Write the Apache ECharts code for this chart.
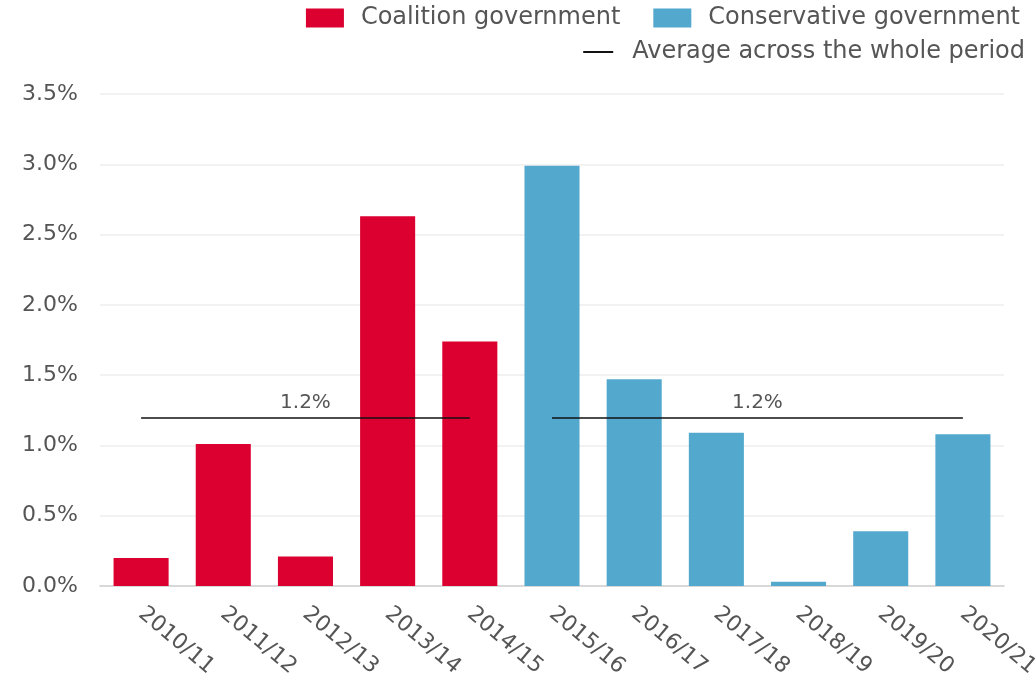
<!DOCTYPE html>
<html>
<head>
<meta charset="utf-8">
<style>
  html, body { margin: 0; padding: 0; background: #fff; }
  #chart { width: 1035px; height: 678px; }
</style>
<script src="https://cdn.jsdelivr.net/npm/echarts@6/dist/echarts.min.js"></script>
</head>
<body>
<div id="chart"></div>
<script>
// Annual growth by financial year, split by governing party
const categories = ['2010/11', '2011/12', '2012/13', '2013/14', '2014/15', '2015/16',
                    '2016/17', '2017/18', '2018/19', '2019/20', '2020/21'];
const coalitionYears = ['2010/11', '2011/12', '2012/13', '2013/14', '2014/15'];
const coalitionValues = [0.20, 1.01, 0.21, 2.63, 1.74];
const conservativeYears = ['2015/16', '2016/17', '2017/18', '2018/19', '2019/20', '2020/21'];
const conservativeValues = [2.99, 1.47, 1.09, 0.03, 0.39, 1.08];
const coalitionAverage = 1.2;
const conservativeAverage = 1.2;
const yTicks = { min: 0, max: 3.5, interval: 0.5 };

const FONT = 'DejaVu Sans';
const RED = '#DC0030';
const BLUE = '#53A8CE';

// place each party's values in its own slot along the shared category axis
function spread(years, values) {
  return categories.map(c => {
    const i = years.indexOf(c);
    return i >= 0 ? values[i] : null;
  });
}

// one horizontal segment spanning a party's years, labelled with its average
function averageSegment(years, value) {
  const text = value.toFixed(1) + '%';
  return [
    { name: text, coord: [years[0], value] },
    { coord: [years[years.length - 1], value] }
  ];
}

const chart = echarts.init(document.getElementById('chart'));
chart.setOption({
  animation: false,
  textStyle: { fontFamily: FONT },
  legend: [
    {
      data: ['Coalition government', 'Conservative government'],
      top: 1, right: 10,
      itemWidth: 38, itemHeight: 19, itemGap: 33,
      icon: 'rect',
      textStyle: { fontFamily: FONT, fontSize: 24, color: '#555', padding: [0, 0, 0, 12] }
    },
    {
      data: [{ name: 'Average across the whole period', icon: 'rect' }],
      top: 35, right: 5,
      itemWidth: 30, itemHeight: 2,
      itemStyle: { color: '#111' },
      textStyle: { fontFamily: FONT, fontSize: 24, color: '#555', padding: [0, 0, 0, 14] }
    }
  ],
  grid: { left: 100, right: 31, top: 94, bottom: 92, outerBoundsMode: 'none', containLabel: false },
  xAxis: {
    type: 'category',
    data: categories,
    axisLine: { lineStyle: { color: '#cfcfcf', width: 1.5 } },
    axisTick: { alignWithLabel: true, length: 9, lineStyle: { color: '#d0d0d0', width: 1.5 } },
    axisLabel: {
      rotate: -40, margin: 25, interval: 0,
      fontFamily: FONT, fontSize: 22, color: '#555'
    }
  },
  yAxis: {
    type: 'value',
    min: yTicks.min, max: yTicks.max, interval: yTicks.interval,
    axisLine: { show: false },
    axisTick: { show: false },
    splitLine: { lineStyle: { color: '#eeeeee', width: 1.5 } },
    axisLabel: {
      margin: 22, fontFamily: FONT, fontSize: 22, color: '#555',
      formatter: v => v.toFixed(1) + '%'
    }
  },
  series: [
    {
      name: 'Coalition government',
      type: 'bar',
      data: spread(coalitionYears, coalitionValues),
      barWidth: '67%', barGap: '-100%',
      itemStyle: { color: RED }
    },
    {
      name: 'Conservative government',
      type: 'bar',
      data: spread(conservativeYears, conservativeValues),
      barWidth: '67%', barGap: '-100%',
      itemStyle: { color: BLUE }
    },
    {
      name: 'Average across the whole period',
      type: 'line',
      data: [],
      symbol: 'none',
      z: 5,
      itemStyle: { color: '#111' },
      lineStyle: { color: '#111', width: 2 },
      markLine: {
        silent: true,
        symbol: 'none',
        lineStyle: { color: '#111', width: 1.5, type: 'solid' },
        label: {
          show: true,
          position: 'insideMiddleTop',
          distance: 5,
          fontFamily: FONT, fontSize: 20, color: '#555',
          formatter: '{b}'
        },
        data: [
          averageSegment(coalitionYears, coalitionAverage),
          averageSegment(conservativeYears, conservativeAverage)
        ]
      }
    }
  ]
});
</script>
</body>
</html>
